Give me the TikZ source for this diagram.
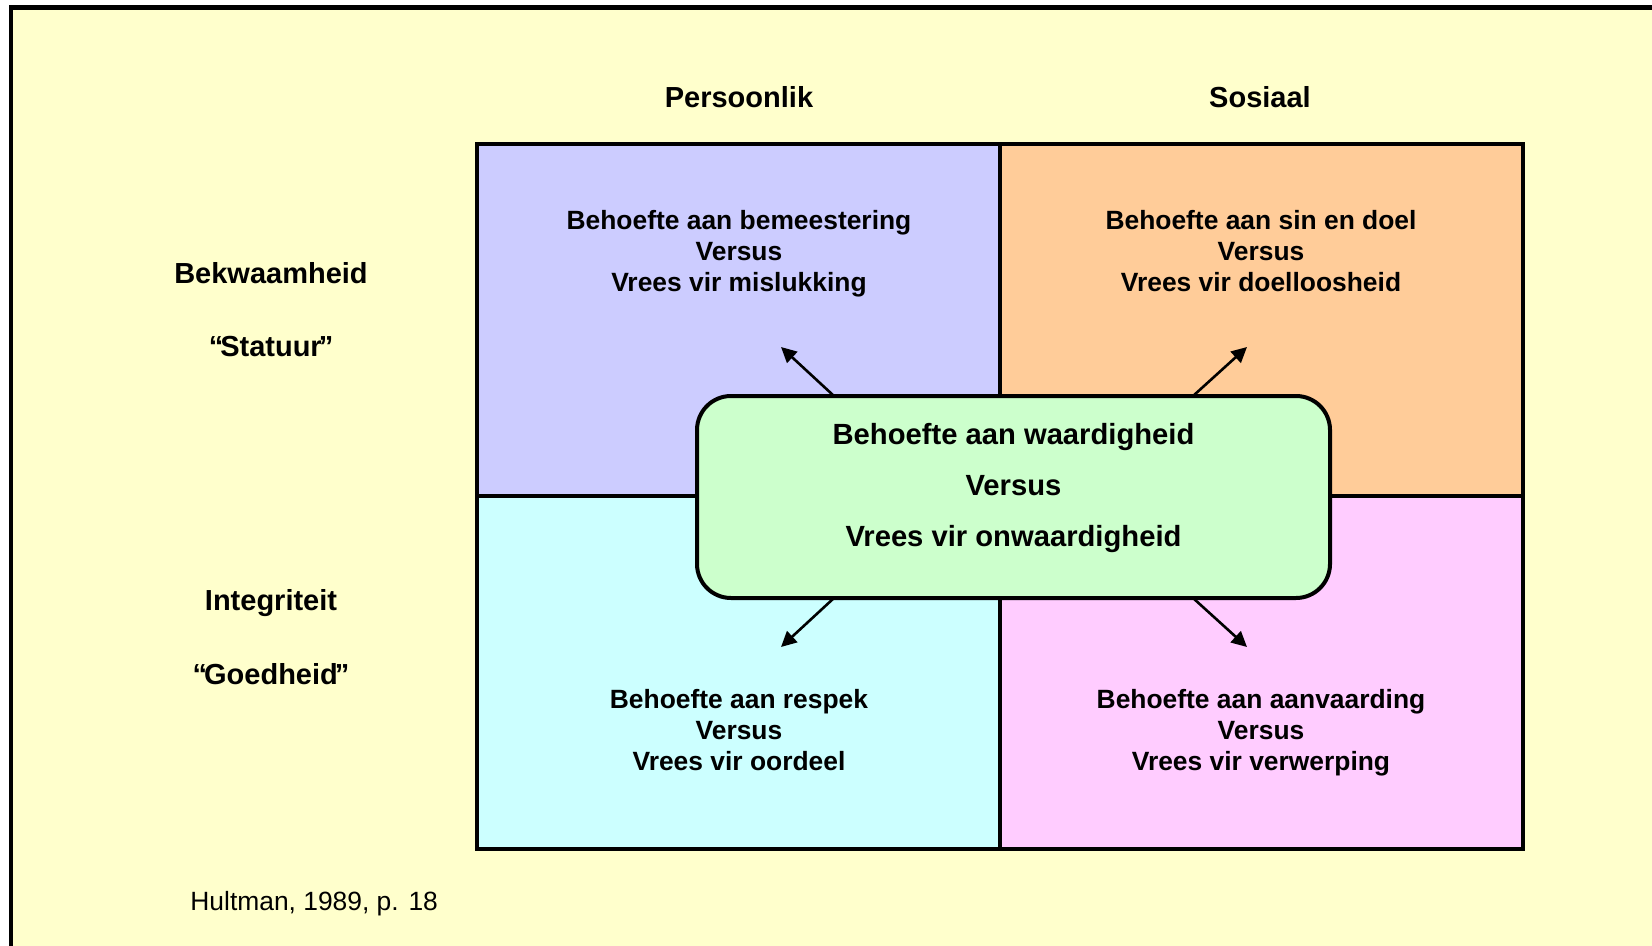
\documentclass[tikz,border=0pt]{standalone}
\usepackage{fontspec}
\setmainfont{Liberation Sans}
\usetikzlibrary{arrows.meta,calc}
\definecolor{paper}{HTML}{FFFFCC}
\definecolor{cellpurple}{HTML}{CCCCFF}
\definecolor{cellorange}{HTML}{FFCC99}
\definecolor{cellcyan}{HTML}{CCFFFF}
\definecolor{cellpink}{HTML}{FFCCFF}
\definecolor{coregreen}{HTML}{CCFFCC}
% quoted label with slightly tightened quotes
\newcommand{\tightquote}[1]{“\kern-1.5pt#1\kern-1.5pt”}

\begin{document}
\begin{tikzpicture}[x=0.5pt,y=-0.5pt,
  cell/.style={draw=black,line width=2pt,anchor=north west,inner sep=0pt,outer sep=0pt,
               minimum width=261.5pt,minimum height=176.5pt},
  celltext/.style={align=center,inner sep=0pt,
               font=\fontsize{13.2pt}{15.5pt}\selectfont\bfseries},
  heading/.style={inner sep=0pt,font=\fontsize{14.5pt}{17pt}\selectfont\bfseries},
  corebox/.style={draw=black,line width=2pt,fill=coregreen,rounded corners=17pt,
               inner sep=0pt,outer sep=0pt,minimum width=316.5pt,minimum height=101pt},
  coretext/.style={align=center,inner sep=0pt,
               font=\fontsize{14.6pt}{25.5pt}\selectfont\bfseries},
  pointer/.style={line width=1.3pt,-{Triangle[length=7.7pt,width=7.5pt]}}
]
\useasboundingbox (0,0) rectangle (1652,946);
% page and its frame (only the top and left edges fall inside the page)
\fill[white] (0,0) rectangle (1652,946);
\draw[line width=2.25pt,fill=paper] (11,7.5) rectangle (1720,1020);

% column headings
\node[heading] (hpers) at (739,97) {Persoonlik};
\node[heading] (hsos)  at (1260,97) {Sosiaal};

% row headings
\node[heading] (rbek)  at (271,273) {Bekwaamheid};
\node[heading] (rstat) at (271,347) {\tightquote{Statuur}};
\node[heading] (rint)  at (271,603) {Integriteit};
\node[heading] (rgoed) at (271,674) {\tightquote{Goedheid}};

% the four quadrants
\node[cell,fill=cellpurple] (pb) at (477,144) {};
\node[cell,fill=cellorange] (sb) at (1000,144) {};
\node[cell,fill=cellcyan]   (pi) at (477,496) {};
\node[cell,fill=cellpink]   (si) at (1000,496) {};

\node[celltext] (tpb) at (739,254) {\strut Behoefte aan bemeestering\\Versus\\Vrees vir mislukking\strut};
\node[celltext] (tsb) at (1261,254) {\strut Behoefte aan sin en doel\\Versus\\Vrees vir doelloosheid\strut};
\node[celltext] (tpi) at (739,733) {\strut Behoefte aan respek\\Versus\\Vrees vir oordeel\strut};
\node[celltext] (tsi) at (1261,733) {\strut Behoefte aan aanvaarding\\Versus\\Vrees vir verwerping\strut};

% central need
\node[corebox] (core) at (1013.5,497) {};
\node[coretext] (ctext) at (1013.5,488) {Behoefte aan waardigheid\\Versus\\Vrees vir onwaardigheid};

% arrows from the centre into each quadrant
\coordinate (apb) at (781,347);
\coordinate (asb) at (1247,347);
\coordinate (api) at (781,647);
\coordinate (asi) at (1247,647);
\draw[pointer] ($(core.north west)+(137,0)$) -- (apb);
\draw[pointer] ($(core.north west)+(496,0)$) -- (asb);
\draw[pointer] ($(core.south west)+(137,0)$) -- (api);
\draw[pointer] ($(core.south west)+(496,0)$) -- (asi);

% source
\node[inner sep=0pt,anchor=west,font=\fontsize{13.2pt}{15.5pt}\selectfont] (src) at (190,903.5) {Hultman, 1989, p. 18};
\end{tikzpicture}
\end{document}
